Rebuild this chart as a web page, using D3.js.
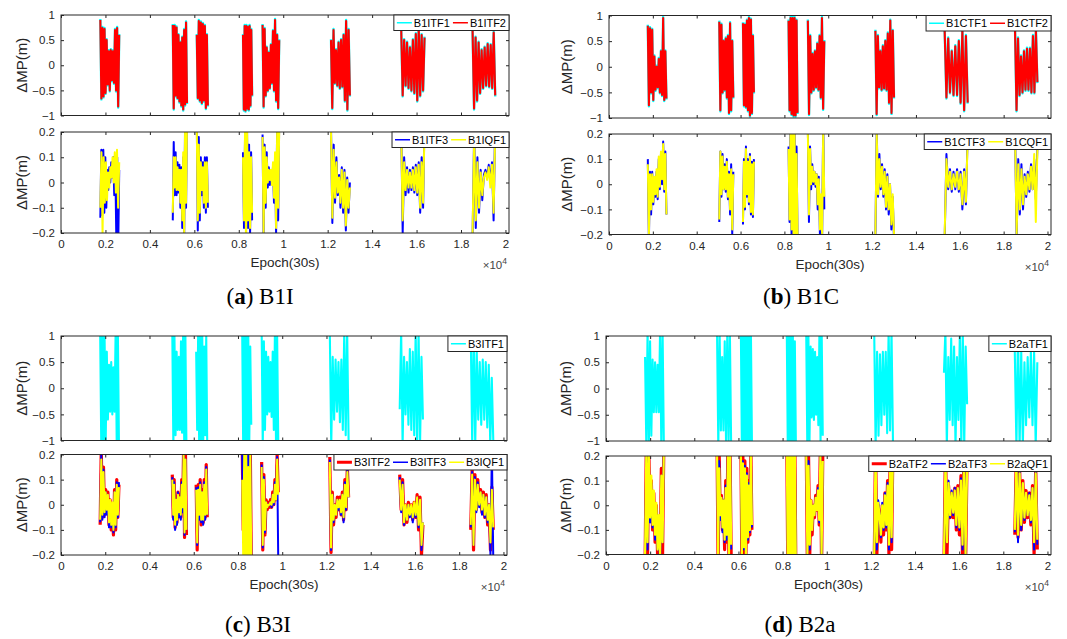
<!DOCTYPE html>
<html><head><meta charset="utf-8">
<script src="https://cdn.jsdelivr.net/npm/d3@7"></script>
<style>
body{margin:0;background:#fff}
svg text{font-family:"Liberation Sans",Arial,Helvetica,sans-serif}
</style>
</head><body>
<svg id="c" width="1067" height="639"></svg>
<script>
// ---------- shared data ----------
const arcStart = [1770, 5030, 6110, 8190, 9070, 12150, 15310, 18520];
const arcEnd   = [2620, 5670, 6610, 8600, 9820, 13000, 16360, 19540];
const xTicks = [0,2000,4000,6000,8000,10000,12000,14000,16000,18000,20000];
const xTickLabels = ["0","0.2","0.4","0.6","0.8","1","1.2","1.4","1.6","1.8","2"];
const yTicksTop = [-1,-0.5,0,0.5,1];
const yTickLabelsTop = ["\u22121","\u22120.5","0","0.5","1"];
const yTicksBot = [-0.2,-0.1,0,0.1,0.2];
const yTickLabelsBot = ["\u22120.2","\u22120.1","0","0.1","0.2"];

// ---------- (a) B1I ----------
const B1ITF1 = [
 [0.92,-0.68,0.76,-0.64,0.74,-0.57,0.52,-0.4,0.3,-0.52,0.32,-0.32,0.3,-0.37,0.72,-0.52,0.76,-0.84,0.62],
 [0.82,-0.88,0.8,-0.62,0.77,-0.67,0.62,-0.74,0.47,-0.82,0.57,-0.9,0.72,-0.8,0.87,-0.77],
 [0.62,-0.67,0.9,-0.72,0.87,-0.77,0.84,-0.72,0.8,-0.87,0.62,-0.82],
 [0.62,-0.9,0.8,-0.92,0.8,-0.88,0.78,-0.9,0.8,-0.82,0.72,-0.62],
 [0.82,-0.84,0.74,-0.62,0.37,-0.52,0.27,-0.47,0.42,-0.37,0.7,-0.52,0.92,-0.72,0.62,-0.87,0.52],
 [0.52,-0.87,0.72,-0.37,0.32,-0.42,0.47,-0.47,0.52,-0.44,0.62,-0.72,0.9,-0.9,0.72,-0.62],
 [0.72,-0.62,0.52,-0.42,0.47,-0.47,0.37,-0.52,0.52,-0.57,0.64,-0.72,0.77,-0.62,0.62,-0.52,0.57],
 [0.72,-0.88,0.57,-0.72,0.47,-0.57,0.32,-0.47,0.37,-0.42,0.44,-0.44,0.42,-0.47,0.67,-0.62]];
const B1ITF2 = [
 [0.9,-0.66,0.74,-0.62,0.72,-0.55,0.5,-0.38,0.28,-0.5,0.3,-0.3,0.28,-0.35,0.7,-0.5,0.74,-0.82,0.6],
 [0.8,-0.86,0.78,-0.6,0.75,-0.65,0.6,-0.72,0.45,-0.8,0.55,-0.88,0.7,-0.78,0.85,-0.75],
 [0.6,-0.65,0.88,-0.7,0.85,-0.75,0.82,-0.7,0.78,-0.85,0.6,-0.8],
 [0.6,-0.88,0.78,-0.9,0.78,-0.86,0.76,-0.88,0.78,-0.8,0.7,-0.6],
 [0.8,-0.82,0.72,-0.6,0.35,-0.5,0.25,-0.45,0.4,-0.35,0.68,-0.5,0.9,-0.7,0.6,-0.85,0.5],
 [0.5,-0.85,0.7,-0.35,0.3,-0.4,0.45,-0.45,0.5,-0.42,0.6,-0.7,0.88,-0.88,0.7,-0.6],
 [0.7,-0.6,0.5,-0.4,0.45,-0.45,0.35,-0.5,0.5,-0.55,0.62,-0.7,0.75,-0.6,0.6,-0.5,0.55],
 [0.7,-0.86,0.55,-0.7,0.45,-0.55,0.3,-0.45,0.35,-0.4,0.42,-0.42,0.4,-0.45,0.65,-0.6]];
const B1ITF3 = [
 [-0.14,0.13,-0.13,0.13,-0.12,0.1,-0.1,0.05,-0.03,0.06,0.0,0.08,0.02,0.1,-0.05,0.08,-0.2,0.1,-0.25,0.05],
 [-0.15,0.16,-0.05,0.12,-0.05,0.08,-0.04,0.07,-0.1,0.06,-0.18,0.1,-0.22,0.25,-0.1,0.3],
 [0.25,-0.19,0.18,-0.15,0.1,-0.05,0.08,-0.1,0.1,-0.12,0.1,-0.1],
 [0.12,-0.18,0.18,-0.2,0.2,-0.18,0.15,-0.2,0.12,-0.15],
 [0.19,-0.22,0.15,-0.1,0.12,-0.02,0.06,-0.01,0.04,0.0,0.06,-0.08,0.1,-0.2,0.22,-0.15,0.25],
 [0.22,-0.16,0.15,-0.08,0.1,-0.05,0.03,-0.1,0.06,-0.12,0.05,-0.19,0.02,-0.12,0.0],
 [0.22,-0.2,0.1,-0.05,0.06,-0.04,0.05,-0.03,0.06,-0.04,0.07,-0.05,0.08,-0.12,0.1,-0.1,0.25],
 [-0.22,0.2,-0.18,0.1,-0.12,0.05,-0.07,0.03,0.05,0.02,0.07,0.0,0.08,-0.15,0.25]];
const B1IQF1 = [
 [-0.1,0.12,-0.2,0.1,-0.08,0.08,-0.07,0.04,-0.02,0.06,0.02,0.1,0.0,0.12,-0.04,0.13,-0.1,0.08],
 [-0.12,0.1,-0.02,0.1,-0.03,0.06,-0.03,0.05,-0.08,0.05,-0.15,0.12,-0.2,0.22,-0.08,0.25],
 [0.22,-0.15,0.15,-0.12,0.08,-0.03,0.06,-0.08,0.08,-0.1,0.08,-0.08],
 [0.1,-0.15,0.2,-0.25,0.22,-0.15,0.12,-0.18,0.1,-0.12],
 [0.18,-0.2,0.14,-0.08,0.1,0.0,0.05,0.01,0.05,-0.01,0.08,-0.06,0.12,-0.18,0.2,-0.1,0.22],
 [0.2,-0.14,0.13,-0.06,0.08,-0.04,0.02,-0.08,0.05,-0.1,0.04,-0.17,0.01,-0.1,-0.02],
 [0.2,-0.15,0.08,-0.03,0.05,-0.02,0.04,-0.02,0.05,-0.03,0.06,-0.04,0.07,-0.1,0.08,-0.08,0.22],
 [-0.2,0.18,-0.15,0.08,-0.1,0.04,-0.05,0.02,0.04,0.01,0.06,-0.02,0.07,-0.12,0.2]];

// ---------- (b) B1C ----------
const B1CTF1 = [
 [0.82,-0.77,0.77,-0.52,0.74,-0.67,0.22,-0.47,0.02,-0.42,0.17,-0.52,0.32,-0.57,0.97,-0.67,0.32,-0.64],
 [0.9,-0.87,0.84,-0.52,0.52,-0.47,0.57,-0.62,0.62,-0.92,0.87,-0.87,0.52,-0.62],
 [0.87,-0.77,0.84,-0.8,0.92,-0.87,0.97,-0.97,0.94,-0.92,0.62,-0.52],
 [0.92,-0.87,0.97,-0.94,0.97,-0.97,0.97,-0.97,0.92,-0.92],
 [0.92,-0.94,0.62,-0.52,0.27,-0.47,0.32,-0.42,0.47,-0.47,0.62,-0.62,0.97,-0.84,0.52],
 [0.72,-0.94,0.62,-0.42,0.32,-0.47,0.42,-0.44,0.52,-0.47,0.67,-0.72,0.92,-0.92,0.72,-0.62],
 [0.72,-0.62,0.57,-0.52,0.32,-0.57,0.42,-0.57,0.52,-0.72,0.72,-0.87,0.62,-0.72],
 [0.72,-0.87,0.57,-0.57,0.22,-0.52,0.32,-0.47,0.37,-0.47,0.37,-0.52,0.62,-0.52,0.72,-0.32]];
const B1CTF2 = [
 [0.8,-0.75,0.75,-0.5,0.72,-0.65,0.2,-0.45,0.0,-0.4,0.15,-0.5,0.3,-0.55,0.95,-0.65,0.3,-0.62],
 [0.88,-0.85,0.82,-0.5,0.5,-0.45,0.55,-0.6,0.6,-0.9,0.85,-0.85,0.5,-0.6],
 [0.85,-0.75,0.82,-0.78,0.9,-0.85,0.95,-0.95,0.92,-0.9,0.6,-0.5],
 [0.9,-0.85,0.95,-0.92,0.95,-0.95,0.95,-0.95,0.9,-0.9],
 [0.9,-0.92,0.6,-0.5,0.25,-0.45,0.3,-0.4,0.45,-0.45,0.6,-0.6,0.95,-0.82,0.5],
 [0.7,-0.92,0.6,-0.4,0.3,-0.45,0.4,-0.42,0.5,-0.45,0.65,-0.7,0.9,-0.9,0.7,-0.6],
 [0.7,-0.6,0.55,-0.5,0.3,-0.55,0.4,-0.55,0.5,-0.7,0.7,-0.85,0.6,-0.7],
 [0.7,-0.85,0.55,-0.55,0.2,-0.5,0.3,-0.45,0.35,-0.45,0.35,-0.5,0.6,-0.5,0.7,-0.3]];
const B1CTF3 = [
 [0.1,-0.22,0.05,-0.12,0.05,-0.08,0.02,-0.05,0.05,-0.06,0.1,-0.02,0.12,0.0,0.17,-0.03,0.13,-0.12],
 [-0.15,0.13,-0.05,0.12,-0.02,0.08,-0.03,0.1,-0.06,0.05,-0.12,0.08,-0.2,0.05],
 [-0.16,0.1,-0.1,0.15,-0.05,0.1,-0.08,0.12,-0.12,0.09,-0.13,0.1],
 [0.15,-0.15,0.25,-0.2,0.25,-0.25,0.22,-0.2,0.15,-0.22],
 [0.22,-0.15,0.15,-0.02,0.08,0.0,0.05,-0.01,0.04,-0.1,0.03,-0.2,-0.05,-0.22,0.25,-0.1],
 [-0.22,0.22,-0.05,0.12,-0.02,0.08,-0.05,0.06,-0.1,0.04,-0.12,0.0,-0.18,-0.05,-0.22],
 [-0.22,0.12,-0.02,0.06,-0.03,0.05,-0.02,0.06,-0.03,0.05,-0.1,0.06,-0.08,0.2],
 [0.22,-0.22,0.1,-0.12,0.08,-0.1,0.04,-0.05,0.05,-0.03,0.08,-0.02,0.1,-0.06,0.15]];
const B1CQF1 = [
 [0.08,-0.2,0.04,-0.1,0.04,-0.07,0.03,-0.04,0.06,-0.05,0.11,-0.01,0.13,0.02,0.16,-0.02,0.12,-0.12],
 [-0.14,0.13,-0.04,0.11,-0.02,0.07,-0.02,0.09,-0.05,0.04,-0.1,0.06,-0.18,0.04],
 [-0.15,0.09,-0.09,0.14,-0.04,0.09,-0.07,0.11,-0.11,0.08,-0.12,0.09],
 [0.14,-0.14,0.22,-0.18,0.25,-0.22,0.2,-0.2,0.12,-0.2],
 [0.2,-0.12,0.14,0.0,0.07,0.01,0.05,0.0,0.04,-0.08,0.02,-0.18,-0.04,-0.2,0.22,-0.05],
 [-0.2,0.2,-0.04,0.1,-0.01,0.07,-0.04,0.05,-0.09,0.03,-0.1,0.0,-0.16,-0.04,-0.2],
 [-0.2,0.1,-0.01,0.05,-0.02,0.04,-0.01,0.05,-0.02,0.04,-0.08,0.05,-0.07,0.18],
 [0.2,-0.2,0.08,-0.1,0.06,-0.08,0.03,-0.04,0.04,-0.02,0.07,-0.02,0.12,-0.15,0.14]];

// ---------- (c) B3I ----------
const B3ITF1 = [
 [1.1,-1.1,1.1,-1.1,1.0,-1.05,0.7,-0.6,0.45,-0.45,0.5,-0.5,0.4,-0.45,1.1,-1.1,1.1,-1.1],
 [1.1,-1.1,1.0,-0.9,0.7,-0.8,0.6,-0.8,0.9,-0.85,1.1,-1.1,1.1,-1.1],
 [0.7,-0.8,1.1,-1.1,1.1,-1.1,1.1,-1.1,0.8,-0.9,1.0,-1.1],
 [1.1,-1.1,1.1,-1.1,1.1,-1.1,1.1,-1.1,0.8,-0.7],
 [1.1,-1.1,0.9,-0.8,0.7,-0.5,0.6,-0.45,0.5,-0.55,0.7,-0.8,1.1,-1.1,1.0,-1.0],
 [1.1,-1.1,0.6,-0.6,0.55,-0.45,0.5,-0.65,0.55,-0.8,1.1,-0.9,1.1,-1.0],
 [-0.4,1.1,-1.1,0.6,-0.5,0.5,-0.7,0.75,-0.8,0.7,-0.9,1.1,-1.1,1.1,-1.1,0.6,-0.6],
 [1.1,-1.1,1.1,-1.1,0.7,-0.6,0.5,-0.7,0.55,-0.6,0.5,-0.75,0.45,-1.1,0.2,-1.0]];
const B3ITF2 = [
 [-0.08,0.22,-0.05,0.15,-0.04,0.06,-0.03,0.05,-0.08,0.02,-0.1,0.0,-0.12,0.06,-0.1,0.1,-0.05,0.08],
 [0.12,-0.05,0.1,-0.09,0.03,-0.07,0.05,-0.04,0.04,-0.05,0.1,-0.02,0.22,-0.13,0.2,-0.12],
 [0.08,-0.18,0.08,-0.05,0.1,-0.08,0.06,-0.07,0.1,-0.05,0.16,-0.05],
 [0.25,-0.1,0.25,0.0,0.25,-0.2,0.25,-0.25,0.25,-0.22],
 [0.17,-0.18,0.12,-0.12,0.02,-0.02,0.01,-0.01,0.02,-0.01,0.05,0.0,0.1,0.02,0.2,0.05],
 [0.19,-0.19,0.05,-0.08,0.0,-0.05,0.03,-0.02,0.03,-0.04,0.05,-0.06,0.1,-0.02,0.15,0.03],
 [0.12,-0.02,0.1,-0.08,0.0,-0.07,0.01,-0.04,0.0,-0.06,0.01,-0.05,0.04,-0.1,0.03,-0.2,-0.08],
 [-0.1,0.14,-0.18,0.12,-0.02,0.1,0.0,0.06,-0.03,0.05,-0.05,0.04,-0.08,0.0,-0.18,0.07,-0.1]];
const B3ITF3 = [
 [-0.07,0.2,-0.06,0.14,-0.05,0.05,-0.04,0.04,-0.09,0.01,-0.09,0.0,-0.11,0.05,-0.09,0.09,-0.05,0.09],
 [0.11,-0.06,0.09,-0.1,0.02,-0.08,0.05,-0.05,0.03,-0.06,0.09,-0.03,0.2,-0.12,0.18,-0.1],
 [0.07,-0.16,0.07,-0.06,0.09,-0.07,0.05,-0.08,0.09,-0.06,0.15,-0.04],
 [0.2,-0.15,0.22,-0.05,0.25,-0.2,0.22,-0.25,0.2,-0.2],
 [0.16,-0.17,0.11,-0.11,0.01,-0.01,0.0,0.0,0.01,-0.01,0.04,0.0,0.09,0.02,0.19,-0.22],
 [0.18,-0.18,0.04,-0.07,0.0,-0.04,0.02,-0.02,0.02,-0.04,0.04,-0.07,0.09,-0.02,0.14,0.03],
 [0.11,-0.03,0.09,-0.08,-0.01,-0.06,0.0,-0.05,-0.01,-0.07,0.0,-0.05,0.03,-0.09,0.02,-0.18,-0.07],
 [-0.09,0.13,-0.16,0.11,-0.03,0.09,-0.01,0.05,-0.04,0.04,-0.05,0.03,-0.07,0.0,-0.2,0.22,-0.22]];
const B3IQF1 = [
 [-0.06,0.18,-0.04,0.13,-0.03,0.05,-0.02,0.04,-0.07,0.02,-0.08,0.01,-0.1,0.05,-0.08,0.08,-0.04,0.07],
 [0.1,-0.04,0.08,-0.08,0.02,-0.06,0.04,-0.03,0.03,-0.04,0.08,-0.01,0.2,-0.11,0.18,-0.1],
 [0.06,-0.15,0.06,-0.04,0.08,-0.06,0.05,-0.06,0.08,-0.04,0.14,-0.04],
 [0.1,-0.2,0.2,-0.25,0.22,-0.25,0.15,-0.22,0.2,-0.2],
 [0.15,-0.16,0.1,-0.1,0.01,-0.01,0.0,0.0,0.01,0.0,0.04,0.01,0.08,0.02,0.18,0.04],
 [0.17,-0.17,0.04,-0.06,0.0,-0.04,0.02,-0.01,0.02,-0.03,0.04,-0.05,0.08,-0.01,0.13,0.03],
 [0.1,-0.02,0.08,-0.07,0.0,-0.06,0.0,-0.04,0.0,-0.05,0.01,-0.04,0.03,-0.08,0.02,-0.16,-0.07],
 [-0.08,0.12,-0.16,0.1,-0.02,0.08,0.0,0.05,-0.02,0.04,-0.04,0.03,-0.06,0.0,-0.15,0.06,-0.09]];

// ---------- (d) B2a ----------
const B2aTF1 = [
 [0.6,-1.1,1.1,-1.1,0.9,-0.9,0.55,-0.45,0.5,-0.45,0.45,-0.45,1.1,-1.1,1.1,-1.05],
 [1.1,-1.1,1.1,-0.8,0.6,-0.8,0.9,-1.0,1.1,-1.1,1.1,-1.1],
 [1.1,-1.1,1.1,-1.1,1.1,-1.1,1.1,-1.1,1.1,-1.1,1.1,-1.0],
 [1.1,-1.1,1.1,-1.1,1.1,-1.1,1.1,-1.1,0.9,-1.0],
 [1.1,-1.1,1.0,-1.0,0.8,-0.55,0.75,-0.6,0.7,-0.5,0.6,-0.7,1.1,-1.0,1.1,-0.9],
 [1.1,-1.1,0.7,-0.9,0.65,-0.7,0.7,-0.5,0.7,-0.85,1.1,-0.8,1.1,-1.0],
 [0.3,1.1,-1.1,0.6,-0.6,0.95,-0.7,0.8,-1.1,0.6,-0.6,1.1,-1.1,1.1,-1.1,0.8,-0.3],
 [0.7,-1.1,1.1,-1.1,0.7,-1.1,0.5,-0.7,0.6,-0.55,0.7,-0.7,0.7,-1.1,0.5]];
const B2aTF2 = [
 [-0.25,0.25,-0.2,0.22,-0.05,0.1,-0.1,0.05,-0.15,0.0,-0.2,-0.05,-0.22,0.15,-0.2,0.25],
 [0.25,-0.25,0.2,-0.05,0.04,-0.1,0.02,-0.18,0.1,-0.15,0.25,-0.25,0.22,-0.2],
 [0.25,-0.25,0.2,-0.2,0.18,-0.22,0.15,-0.15,0.1,-0.12,0.22,-0.1],
 [0.25,-0.25,0.25,-0.25,0.25,-0.25,0.25,-0.25,0.25,-0.25],
 [0.25,-0.25,0.2,-0.2,0.02,-0.12,0.0,-0.05,0.04,-0.02,0.08,-0.08,0.25,-0.25,0.2],
 [-0.25,0.25,-0.2,0.0,-0.05,-0.15,0.0,-0.12,0.05,-0.1,0.1,-0.2,0.25,-0.18,0.25],
 [-0.25,0.25,-0.2,0.08,-0.05,0.05,-0.05,0.07,-0.1,0.08,-0.12,0.12,-0.2,0.25,-0.25,0.2],
 [-0.12,0.22,-0.13,0.15,-0.1,0.1,-0.07,0.06,-0.05,0.05,-0.08,0.08,-0.2,0.15,-0.18]];
const B2aTF3 = [
 [-0.22,0.22,-0.18,0.2,-0.07,0.09,-0.09,0.04,-0.14,-0.01,-0.18,-0.06,-0.25,0.12,-0.15,0.25],
 [0.25,-0.2,0.18,-0.06,0.03,-0.11,0.02,-0.15,0.08,-0.14,0.22,-0.2,0.2,-0.18],
 [0.22,-0.2,0.18,-0.18,0.16,-0.2,0.13,-0.14,0.09,-0.11,0.2,-0.09],
 [0.25,-0.22,0.25,-0.25,0.25,-0.25,0.22,-0.25,0.25,-0.2],
 [0.25,-0.2,0.18,-0.18,0.01,-0.1,0.0,-0.04,0.03,-0.01,0.07,-0.07,0.22,-0.22,0.18],
 [-0.22,0.25,-0.18,0.02,-0.04,-0.13,0.01,-0.1,0.05,-0.09,0.09,-0.18,0.22,-0.15,0.22],
 [-0.25,0.22,-0.15,0.1,-0.05,0.06,-0.04,0.07,-0.09,0.07,-0.1,0.11,-0.18,0.22,-0.2,0.18],
 [-0.11,0.2,-0.15,0.14,-0.1,0.09,-0.06,0.05,-0.04,0.05,-0.07,0.07,-0.18,0.14,-0.16]];
const B2aQF1 = [
 [-0.2,0.22,-0.15,0.2,-0.05,0.12,-0.08,0.06,-0.12,0.01,-0.18,-0.04,-0.2,0.12,-0.15,0.22],
 [0.22,-0.2,0.15,-0.04,0.03,-0.09,0.02,-0.14,0.07,-0.12,0.2,-0.2,0.2,-0.16],
 [0.22,-0.2,0.17,-0.17,0.15,-0.2,0.12,-0.13,0.08,-0.1,0.2,-0.08],
 [0.25,-0.25,0.25,-0.25,0.25,-0.25,0.25,-0.25,0.22,-0.22],
 [0.22,-0.2,0.16,-0.16,0.02,-0.1,0.0,-0.04,0.03,-0.02,0.06,-0.06,0.2,-0.2,0.18],
 [-0.2,0.22,-0.15,0.01,-0.04,-0.12,0.0,-0.09,0.04,-0.08,0.08,-0.16,0.2,-0.13,0.2],
 [-0.22,0.2,-0.15,0.09,-0.04,0.05,-0.03,0.06,-0.08,0.07,-0.09,0.1,-0.16,0.2,-0.2,0.16],
 [-0.1,0.18,-0.12,0.13,-0.08,0.09,-0.05,0.05,-0.04,0.04,-0.06,0.07,-0.15,0.13,-0.14]];

// ---------- layout ----------
const CY="#00ffff", RD="#ff0000", BL="#0000ff", YL="#ffff00", AX="#262626";
const subplots = [
 {x0:61,x1:509,y0:15,y1:115.5,top:true,ylx:22,series:[{d:B1ITF1,c:CY,w:2.4,lw:1.5,n:"B1ITF1"},{d:B1ITF2,c:RD,w:2.1,lw:1.5,n:"B1ITF2"}]},
 {x0:61,x1:509,y0:132,y1:233,top:false,ylx:22,series:[{d:B1ITF3,c:BL,w:2,lw:1.5,n:"B1ITF3"},{d:B1IQF1,c:YL,w:2,lw:1.5,n:"B1IQF1"}]},
 {x0:609,x1:1051,y0:15.5,y1:118,top:true,ylx:567,series:[{d:B1CTF1,c:CY,w:2.4,lw:1.5,n:"B1CTF1"},{d:B1CTF2,c:RD,w:2.1,lw:1.5,n:"B1CTF2"}]},
 {x0:609,x1:1051,y0:134,y1:234.5,top:false,ylx:567,series:[{d:B1CTF3,c:BL,w:2,lw:1.5,n:"B1CTF3"},{d:B1CQF1,c:YL,w:2,lw:1.5,n:"B1CQF1"}]},
 {x0:61,x1:507,y0:336,y1:440.5,top:true,ylx:22,series:[{d:B3ITF1,c:CY,w:2.1,lw:1.5,n:"B3ITF1"}]},
 {x0:61,x1:507,y0:454.5,y1:555,top:false,ylx:22,series:[{d:B3ITF2,c:RD,w:3.2,lw:3,n:"B3ITF2"},{d:B3ITF3,c:BL,w:2,lw:1.5,n:"B3ITF3"},{d:B3IQF1,c:YL,w:2,lw:1.5,n:"B3IQF1"}]},
 {x0:606,x1:1051,y0:336,y1:441,top:true,ylx:566,series:[{d:B2aTF1,c:CY,w:2.1,lw:1.5,n:"B2aTF1"}]},
 {x0:606,x1:1051,y0:456,y1:554.5,top:false,ylx:566,series:[{d:B2aTF2,c:RD,w:3.2,lw:3,n:"B2aTF2"},{d:B2aTF3,c:BL,w:2,lw:1.5,n:"B2aTF3"},{d:B2aQF1,c:YL,w:2.2,lw:1.5,n:"B2aQF1"}]}
];
const captions = [
 {x:260,y:304,l:"a",t:"B1I"},{x:801,y:304,l:"b",t:"B1C"},
 {x:258,y:632,l:"c",t:"B3I"},{x:800,y:632,l:"d",t:"B2a"}
];

const svg = d3.select("#c");
svg.append("rect").attr("width",1067).attr("height",639).attr("fill","#fff");

subplots.forEach((sp,si)=>{
  const x = d3.scaleLinear().domain([0,20160]).range([sp.x0,sp.x1]);
  const yDom = sp.top?[-1,1]:[-0.2,0.2];
  const y = d3.scaleLinear().domain(yDom).range([sp.y1,sp.y0]);
  const g = svg.append("g");
  const cid = "clip"+si;
  svg.append("clipPath").attr("id",cid).append("rect")
    .attr("x",sp.x0).attr("y",sp.y0).attr("width",sp.x1-sp.x0).attr("height",sp.y1-sp.y0);
  const line = d3.line().x(d=>x(d[0])).y(d=>y(d[1]));
  const dg = g.append("g").attr("clip-path",`url(#${cid})`);
  sp.series.forEach(s=>{
    s.d.forEach((vals,i)=>{
      const n=vals.length, a=arcStart[i], b=arcEnd[i];
      const pts = vals.map((v,k)=>[a+(b-a)*k/(n-1), v]);
      dg.append("path").attr("d",line(pts)).attr("fill","none")
        .attr("stroke",s.c).attr("stroke-width",s.w).attr("stroke-linejoin","round");
    });
  });
  // axes
  const yT = sp.top?yTicksTop:yTicksBot, yL = sp.top?yTickLabelsTop:yTickLabelsBot;
  const ax = g.append("g");
  ax.append("g").attr("transform",`translate(0,${sp.y1})`)
    .call(d3.axisBottom(x).tickValues(xTicks).tickSize(-3).tickPadding(7)
      .tickFormat((d,i)=>sp.top?"":xTickLabels[i]));
  ax.append("g").attr("transform",`translate(0,${sp.y0})`)
    .call(d3.axisTop(x).tickValues(xTicks).tickSize(-3).tickFormat(""));
  ax.append("g").attr("transform",`translate(${sp.x0},0)`)
    .call(d3.axisLeft(y).tickValues(yT).tickSize(-3).tickPadding(6).tickFormat((d,i)=>yL[i]));
  ax.append("g").attr("transform",`translate(${sp.x1},0)`)
    .call(d3.axisRight(y).tickValues(yT).tickSize(-3).tickFormat(""));
  ax.selectAll(".domain").remove();
  ax.selectAll(".tick line").attr("stroke",AX).attr("stroke-width",1);
  ax.selectAll(".tick text").attr("fill",AX).attr("font-size",11.5)
    .attr("font-family","'Liberation Sans',Arial,sans-serif");
  g.append("rect").attr("x",sp.x0).attr("y",sp.y0).attr("width",sp.x1-sp.x0).attr("height",sp.y1-sp.y0)
    .attr("fill","none").attr("stroke",AX).attr("stroke-width",1);
  // y label
  g.append("text").attr("transform",`translate(${sp.ylx},${(sp.y0+sp.y1)/2}) rotate(-90)`)
    .attr("text-anchor","middle").attr("dy","0.35em").attr("font-size",15).attr("fill",AX)
    .text("\u0394MP(m)");
  if(!sp.top){
    g.append("text").attr("x",(sp.x0+sp.x1)/2).attr("y",sp.y1+34).attr("text-anchor","middle")
      .attr("font-size",13.5).attr("fill",AX).text("Epoch(30s)");
    const ex = g.append("text").attr("x",sp.x1-2).attr("y",sp.y1+36).attr("text-anchor","end")
      .attr("font-size",11.5).attr("fill","#444");
    ex.append("tspan").text("\u00d710");
    ex.append("tspan").attr("dy",-5).attr("font-size",8.5).text("4");
  }
  // legend
  const lg = g.append("g");
  const fs=11, sample=15, pad=3, gap=3, tg=2, h=15.5;
  let cx = pad; const items=[];
  sp.series.forEach(s=>{
    const t = lg.append("text").attr("font-size",fs).attr("fill","#000").text(s.n);
    const tw = t.node().getComputedTextLength();
    items.push({s,t,x:cx,tw}); cx += sample+tg+tw+gap;
  });
  const W = cx-gap+pad;
  const lx = sp.x1-W, ly = sp.y0;
  lg.insert("rect","text").attr("x",lx).attr("y",ly).attr("width",W).attr("height",h)
    .attr("fill","#fff").attr("stroke",AX).attr("stroke-width",1);
  items.forEach(it=>{
    lg.append("line").attr("x1",lx+it.x).attr("x2",lx+it.x+sample).attr("y1",ly+h/2).attr("y2",ly+h/2)
      .attr("stroke",it.s.c).attr("stroke-width",it.s.lw);
    it.t.attr("x",lx+it.x+sample+tg).attr("y",ly+h/2).attr("dy","0.36em");
  });
});

captions.forEach(c=>{
  const t = svg.append("text").attr("x",c.x).attr("y",c.y).attr("text-anchor","middle")
    .attr("font-size",23).attr("fill","#000").style("font-family","'Liberation Serif','Times New Roman',serif");
  t.append("tspan").text("(");
  t.append("tspan").attr("font-weight","bold").text(c.l);
  t.append("tspan").text(") "+c.t);
});
</script>
</body></html>
